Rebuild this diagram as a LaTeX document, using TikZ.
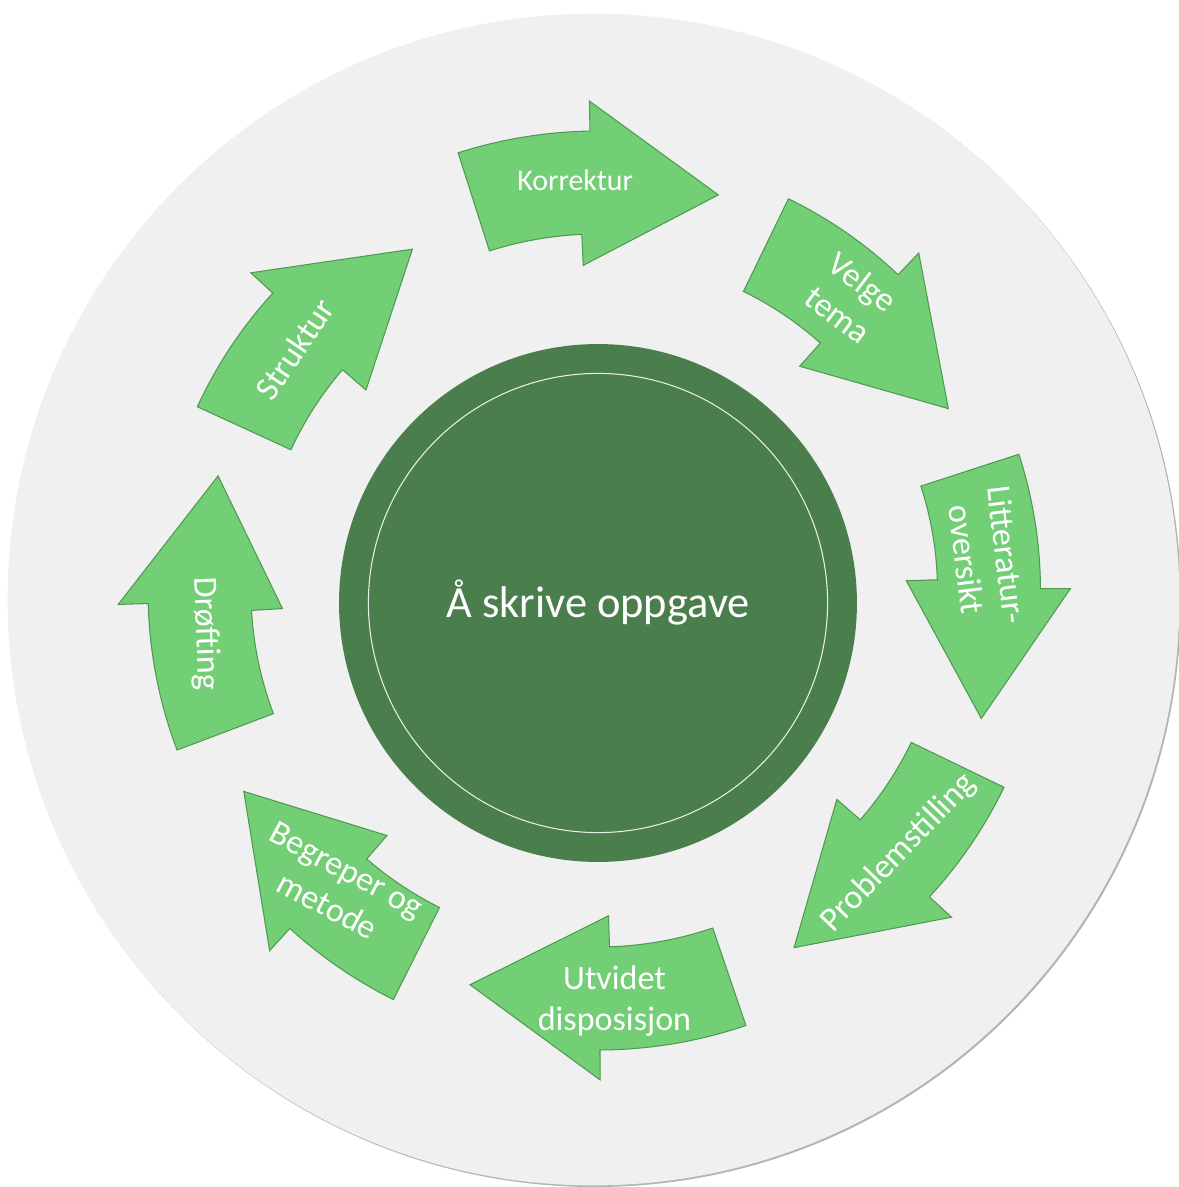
\documentclass[tikz,border=0pt]{standalone}
\usepackage{fontspec}
\setmainfont{Carlito}
\usepackage{tikz}
\definecolor{plategray}{HTML}{F0F0F0}
\definecolor{shadegray}{HTML}{B4B4B4}
\definecolor{hubgreen}{HTML}{4B7E4D}
\definecolor{ringwhite}{HTML}{E6F0E6}
\definecolor{arrowgreen}{HTML}{73CF76}
\definecolor{arrowedge}{HTML}{4F9A51}

% curved block arrow round the hub: tail angle, head angle, tip angle, outer radius, tip radius
\newcommand{\CycleArrow}[5]{%
  \draw[StepArrow] (#1:#4) arc[start angle=#1,end angle=#2,radius=#4]
    -- (#2:#4+30) -- (#3:#5) -- (#2+1.6:#4-134) -- (#2+1.6:#4-103)
    arc[start angle=#2+1.6,end angle=#1,radius=#4-103] -- cycle;}

\begin{document}
\begin{tikzpicture}[x=0.02cm,y=0.02cm]
  \tikzset{StepArrow/.style={fill=arrowgreen,draw=arrowedge,line width=0.6pt,line join=miter}}
  \tikzset{StepLabel/.style={text=white,align=center,inner sep=0pt,font=\fontsize{19.4}{23.3}\selectfont}}
  \useasboundingbox (-598,-596) rectangle (580,591);
  % backdrop
  \fill[shadegray] (-3,-10) circle[radius=586];
  \node[circle,fill=plategray,minimum size=23.44cm,inner sep=0pt] (plate) at (-4.5,-8.5) {};
  % hub
  \node[circle,fill=hubgreen,minimum size=10.36cm,inner sep=0pt,text=white,
        font=\fontsize{25.3}{30}\selectfont] (hub) at (0,-12) {Å skrive oppgave};
  \draw[ringwhite,line width=0.6pt] (hub.center) circle[radius=229.6];
  % arrows
  \CycleArrow{107.7}{91}{73.1}{460}{414}
  \CycleArrow{64.1}{46.5}{27.5}{436}{395}
  \CycleArrow{18}{0.3}{-18.4}{442.5}{404}
  \CycleArrow{-25.8}{-42.7}{-61.2}{451}{407}
  \CycleArrow{-71.2}{-89.75}{-108}{459}{414}
  \CycleArrow{-116.6}{-132.4}{-150.5}{457}{407}
  \CycleArrow{-159.3}{-178.4}{-196.85}{450}{397}
  \CycleArrow{-204.7}{-222.5}{-241.5}{441}{389}
  % labels
  \node[StepLabel,font=\fontsize{17}{20}\selectfont] (korrektur) at (-22.8,411) {Korrektur};
  \node[StepLabel,rotate=-37] (velge) at (252.5,292.7) {Velge\\tema};
  \node[StepLabel,rotate=-83] (litteratur) at (388.8,33.8) {Litteratur-\\oversikt};
  \node[StepLabel,rotate=46] (problem) at (300.9,-262.2) {Problemstilling};
  \node[StepLabel] (utvidet) at (16.5,-409.8) {Utvidet\\disposisjon};
  \node[StepLabel,rotate=-28] (begreper) at (-261,-297) {Begreper og\\metode};
  \node[StepLabel,rotate=-88] (drofting) at (-392.7,-42.8) {Drøfting};
  \node[StepLabel,rotate=56] (struktur) at (-303.3,241.8) {Struktur};
\end{tikzpicture}
\end{document}
